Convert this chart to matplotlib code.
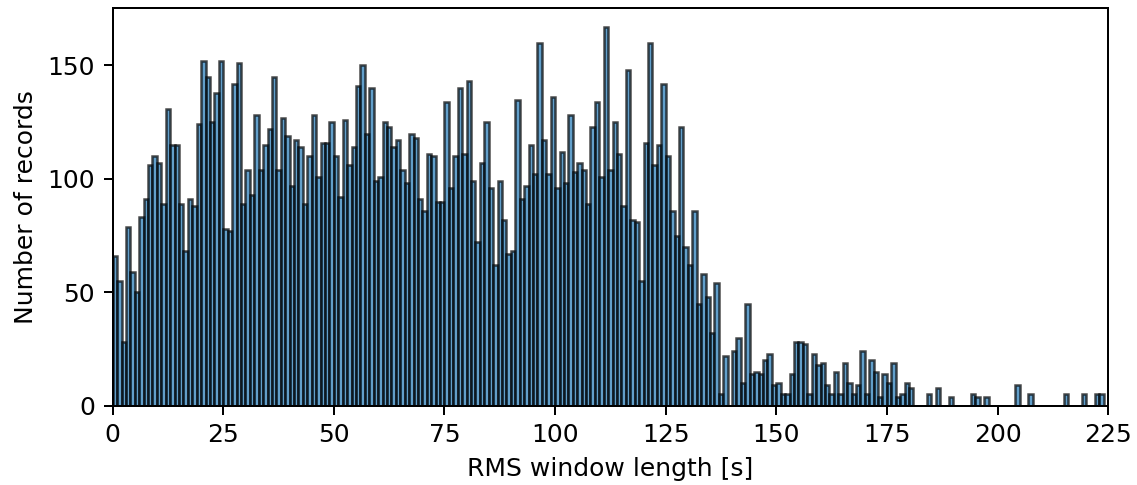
import numpy as np
import matplotlib
matplotlib.use("Agg")
import matplotlib.pyplot as plt

# Histogram counts, one bin per second of RMS window length (0..223 s)
counts = [
    66, 55, 28, 79, 59, 50, 83, 91, 106, 110, 107, 89, 131, 115, 115, 89, 68, 91, 88, 124,
    152, 145, 125, 138, 152, 78, 77, 142, 151, 89, 104, 93, 128, 104, 115, 122, 145, 104, 127, 119,
    97, 117, 114, 89, 110, 128, 101, 116, 116, 125, 110, 92, 126, 106, 114, 141, 150, 120, 140, 99,
    101, 125, 123, 114, 117, 104, 98, 120, 118, 91, 86, 111, 110, 90, 90, 134, 96, 110, 140, 111,
    143, 99, 72, 107, 125, 96, 62, 99, 82, 67, 68, 135, 91, 97, 115, 102, 160, 117, 102, 136,
    96, 112, 98, 128, 103, 107, 104, 89, 123, 134, 101, 167, 104, 125, 111, 88, 148, 82, 81, 55,
    116, 160, 106, 115, 142, 110, 86, 75, 123, 70, 62, 86, 45, 58, 48, 32, 54, 5, 22, 0,
    24, 30, 10, 45, 14, 15, 14, 20, 23, 9, 10, 5, 5, 14, 28, 28, 27, 5, 23, 18,
    19, 9, 5, 15, 5, 19, 10, 5, 9, 24, 5, 20, 15, 4, 14, 10, 19, 4, 5, 10,
    8, 0, 0, 0, 5, 0, 8, 0, 0, 4, 0, 0, 0, 0, 5, 4, 0, 4, 0, 0,
    0, 0, 0, 0, 9, 0, 0, 5, 0, 0, 0, 0, 0, 0, 0, 5, 0, 0, 0, 5,
    0, 0, 5, 5,
]
bin_width = 1.0
xticks = [0, 25, 50, 75, 100, 125, 150, 175, 200, 225]
yticks = [0, 50, 100, 150]

counts = np.array(counts)
left_edges = np.arange(len(counts)) * bin_width

fig = plt.figure(figsize=(1137 / 180, 485 / 180), dpi=180)
ax = fig.add_axes([0.0991, 0.1635, 0.8755, 0.82])

# bars like plt.hist(..., edgecolor='k', alpha=...)
ax.bar(left_edges, counts, width=bin_width, align="edge",
       color="#1f77b4", edgecolor="k", linewidth=1.0, alpha=0.7)

ax.set_xlim(0, 225)
ax.set_ylim(0, counts.max() * 1.05)
ax.set_xticks(xticks)
ax.set_yticks(yticks)
ax.set_xlabel("RMS window length [s]")
ax.set_ylabel("Number of records")

fig.savefig("out.png", dpi=180)
